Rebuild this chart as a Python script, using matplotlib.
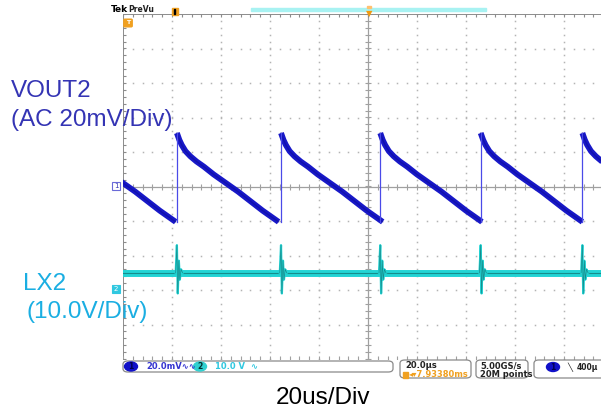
import numpy as np
import matplotlib.pyplot as plt
from matplotlib.patches import FancyBboxPatch, Ellipse, Rectangle

W, H = 601, 409

# scope settings
t_per_div = 20.0      # us/div
vout_per_div = 20.0   # mV/div (AC)
lx_per_div = 10.0     # V/div
lx_ground = -3.0      # div, CH2 ground marker position

# VOUT2 ripple: jump instants (us) and one period of the ramp
jump_times = [-120.0, -78.0, -35.5, 5.0, 46.0, 87.5]
ramp_tau = [0, 1, 2, 3.5, 5.5, 8, 11, 15, 20, 25, 30, 35, 41.5]   # us after jump
ramp_mv = [31, 27, 24, 20.5, 17.5, 14.5, 11.5, 7, 2, -3, -8.5, -14, -20.5]

# LX2: flat level with a ringing spike at every jump
lx_level = 5.0  # V
spike_tau = [-0.5, 0.0, 0.35, 0.8, 1.2, 1.7, 2.3]  # us around jump
spike_v = [5.0, 13.0, -1.0, 8.5, 3.0, 6.0, 5.0]    # V

vout_col = '#1818c8'
lx_col = '#22d4d4'
vout_txt = '#3434b4'
lx_txt = '#1aaee2'
grid_col = '#b4b4b4'
edge_col = '#8c8c8c'


def fx(x):
    return x / W


def fy(y):
    return 1 - y / H


fig = plt.figure(figsize=(W / 100, H / 100), dpi=100)
ax = fig.add_axes([fx(123), fy(359), 490 / W, 345 / H])
ax.set_xlim(-5 * t_per_div, 5 * t_per_div)
ax.set_ylim(-5, 5)
ax.axis('off')

# graticule: dotted divisions, solid centre cross and edges
minor_x = np.arange(-100, 100.1, t_per_div / 5)
minor_y = np.arange(-5, 5.01, 0.2)
for k in range(-4, 5):
    if k == 0:
        continue
    ax.plot(np.full_like(minor_y, k * t_per_div), minor_y, ls='none', marker='s',
            ms=1.1, mew=0, color=grid_col)
    ax.plot(minor_x, np.full_like(minor_x, k), ls='none', marker='s',
            ms=1.1, mew=0, color=grid_col)
ax.axhline(0, color='#a0a0a0', lw=0.9)
ax.axvline(0, color='#a0a0a0', lw=0.9)
ax.plot(minor_x, np.zeros_like(minor_x), ls='none', marker='|', ms=4.5, mew=0.8, color='#a0a0a0')
ax.plot(np.zeros_like(minor_y), minor_y, ls='none', marker='_', ms=4.5, mew=0.8, color='#a0a0a0')
ax.axhline(5, color=edge_col, lw=1.4)
ax.axvline(-100, color=edge_col, lw=1.4)
ax.plot(minor_x, np.full_like(minor_x, 5), ls='none', marker='|', ms=5, mew=0.8, color=edge_col)
ax.plot(minor_x, np.full_like(minor_x, -5), ls='none', marker='|', ms=5, mew=0.8, color='#a0a0a0')
ax.plot(np.full_like(minor_y, -100), minor_y, ls='none', marker='_', ms=5, mew=0.8, color=edge_col)

# VOUT2 ramps (thick noisy band) and fast rising edges (thin)
for i, j in enumerate(jump_times):
    t = [j + tau for tau in ramp_tau]
    v = [m / vout_per_div for m in ramp_mv]
    ax.plot(t, v, color=vout_col, lw=4.2, solid_capstyle='butt', solid_joinstyle='round')
    ax.plot(t, v, color='#0a0a90', lw=1.0, alpha=0.5)
    if i > 0:
        ax.plot([j, j], [ramp_mv[-1] / vout_per_div, ramp_mv[0] / vout_per_div],
                color='#4a4ae8', lw=0.9)

# LX2 trace: thick flat band, thin spikes
ax.plot([-100, 100], [lx_level / lx_per_div + lx_ground] * 2, color=lx_col, lw=5.0)
ax.plot([-100, 100], [lx_level / lx_per_div + lx_ground] * 2, color='#168c8c', lw=0.8)
for j in jump_times:
    st = [j + s for s in spike_tau]
    sv = [v / lx_per_div + lx_ground for v in spike_v]
    ax.plot(st, sv, color=lx_col, lw=1.6)
    ax.plot(st, sv, color='#168c8c', lw=0.5)

# channel labels
lab = dict(fontsize=17.5, family='Liberation Sans')
fig.text(fx(11), fy(97), 'VOUT2', color=vout_txt, **lab)
fig.text(fx(11), fy(126), '(AC 20mV/Div)', color=vout_txt, **lab)
fig.text(fx(23), fy(290), 'LX2', color=lx_txt, **lab)
fig.text(fx(26), fy(318), '(10.0V/Div)', color=lx_txt, **lab)
fig.text(fx(323), fy(404), '20us/Div', color='black', ha='center', **lab)

# header
fig.text(fx(111), fy(12), 'Tek', fontsize=6.5, fontweight='bold', color='black')
fig.text(fx(128), fy(12), 'PreVu', fontsize=5.5, fontweight='bold', color='#222222')
fig.patches.append(Rectangle((fx(251), fy(11)), fx(235), 3 / H, transform=fig.transFigure,
                             color='#a8f2f2'))
fig.patches.append(Rectangle((fx(172), fy(15)), fx(6), 7 / H, transform=fig.transFigure,
                             color='#f0a020'))
fig.patches.append(Rectangle((fx(173.5), fy(14)), fx(1.6), 5 / H, transform=fig.transFigure,
                             color='black'))
fig.patches.append(FancyBboxPatch((fx(125), fy(26)), fx(6), 6 / H, transform=fig.transFigure,
                                  boxstyle='round,pad=0.002', color='#f0a020'))
fig.text(fx(128), fy(23), 'T', fontsize=4.5, color='white', ha='center', va='center',
         fontweight='bold')
fig.text(fx(369), fy(14), '\u25bc', fontsize=6, color='#f29a10', ha='center', va='center')
fig.patches.append(Rectangle((fx(366.5), fy(8)), fx(4), 2 / H, transform=fig.transFigure,
                             color='#ffc070'))

# channel ground markers
fig.patches.append(Rectangle((fx(112), fy(190)), fx(8), 8 / H, transform=fig.transFigure,
                             facecolor='white', edgecolor='#6a6ad8', lw=0.8))
fig.text(fx(116), fy(186), '1', fontsize=5, color='#3434b4', ha='center', va='center')
fig.patches.append(Rectangle((fx(112), fy(293)), fx(8), 8 / H, transform=fig.transFigure,
                             facecolor='#30c8e0', edgecolor='#30c8e0', lw=0.8))
fig.text(fx(116), fy(289), '2', fontsize=5, color='white', ha='center', va='center')


# status bar
def box(x0, y0, x1, y1):
    fig.patches.append(FancyBboxPatch((fx(x0), fy(y1)), fx(x1 - x0), (y1 - y0) / H,
                                      transform=fig.transFigure,
                                      boxstyle='round,pad=0,rounding_size=0.008',
                                      facecolor='white', edgecolor='#8a8a8a', lw=0.9))


box(123, 361, 393, 372)
box(400, 360, 471, 378)
box(476, 360, 528, 378)
box(534, 360, 640, 378)

fig.patches.append(Ellipse((fx(131), fy(366.5)), 13 / W, 9 / H, transform=fig.transFigure,
                           color='#1010c8'))
fig.text(fx(131), fy(366.5), '1', fontsize=5.5, color='#000050', ha='center', va='center',
         fontweight='bold')
fig.text(fx(146), fy(366.5), '20.0mV\u223f\u223f', fontsize=6, color='#3434d0', va='center',
         fontweight='bold')
fig.patches.append(Ellipse((fx(200), fy(366.5)), 13 / W, 9 / H, transform=fig.transFigure,
                           color='#30d0d0'))
fig.text(fx(200), fy(366.5), '2', fontsize=5.5, color='#003030', ha='center', va='center',
         fontweight='bold')
fig.text(fx(215), fy(366.5), '10.0 V', fontsize=6, color='#30c8e0', va='center',
         fontweight='bold')
fig.text(fx(250), fy(366.5), '\u223f', fontsize=6, color='#30c8e0', va='center',
         fontweight='bold')

fig.text(fx(405), fy(366), '20.0\u00b5s', fontsize=6, color='#222222', va='center',
         fontweight='bold')
fig.patches.append(Rectangle((fx(403), fy(378)), fx(5), 6 / H, transform=fig.transFigure,
                             color='#f0a020'))
fig.text(fx(409), fy(374.5), '\u25c2\u25be7.93380ms', fontsize=6, color='#f0a020',
         va='center', fontweight='bold')
fig.text(fx(480), fy(366), '5.00GS/s', fontsize=6, color='#222222', va='center',
         fontweight='bold')
fig.text(fx(480), fy(374.5), '20M points', fontsize=6, color='#222222', va='center',
         fontweight='bold')
fig.patches.append(Ellipse((fx(553), fy(367)), 13 / W, 9 / H, transform=fig.transFigure,
                           color='#1010c8'))
fig.text(fx(553), fy(367), '1', fontsize=5.5, color='#000050', ha='center', va='center',
         fontweight='bold')
fig.text(fx(567), fy(367), '\u2572', fontsize=6, color='#222222', va='center')
fig.text(fx(577), fy(367), '400\u00b5', fontsize=5.5, color='#222222', va='center',
         fontweight='bold')

fig.savefig('out.png', dpi=100)
